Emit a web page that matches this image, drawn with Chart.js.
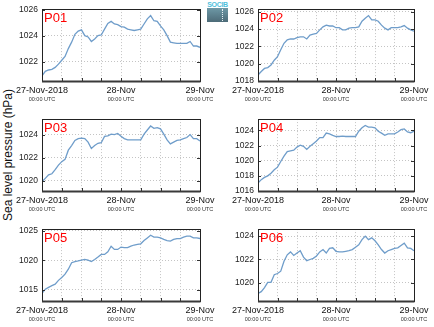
<!DOCTYPE html>
<html>
<head>
<meta charset="utf-8">
<script src="https://cdn.jsdelivr.net/npm/chart.js@4.4.0/dist/chart.umd.min.js"></script>
<style>
  body { margin: 0; width: 434px; height: 327px; overflow: hidden; background: #fff; position: relative;
         font-family: "Liberation Sans", Arial, sans-serif; }
  .panel { position: absolute; width: 224px; height: 107px; }
  #ylabel { position: absolute; left: 8px; top: 155px; transform: translate(-50%, -50%) rotate(-90deg);
            font-size: 12px; white-space: nowrap; color: #111; }
  #logo { position: absolute; left: 207px; top: 2px; width: 21px; }
  #logo .txt { font-size: 7px; line-height: 6px; height: 6px; color: #4fc0dc; font-weight: bold;
               letter-spacing: -0.3px; text-align: center; }
  #logo .box { height: 14px; background: linear-gradient(#6d98a6, #4d6b78); position: relative; }
  #logo .box::after { content: ""; position: absolute; left: 15px; top: 1px; height: 12px;
                      border-left: 1px dotted #e8f2f5; }
</style>
</head>
<body>
<div id="ylabel">Sea level pressure (hPa)</div>
<div id="logo"><div class="txt">SOCIB</div><div class="box"></div></div>

<div class="panel" style="left:0;top:0"><canvas id="c1" width="224" height="107"></canvas></div>
<div class="panel" style="left:210px;top:0"><canvas id="c2" width="224" height="107"></canvas></div>
<div class="panel" style="left:0;top:110px"><canvas id="c3" width="224" height="107"></canvas></div>
<div class="panel" style="left:210px;top:110px"><canvas id="c4" width="224" height="107"></canvas></div>
<div class="panel" style="left:0;top:220px"><canvas id="c5" width="224" height="107"></canvas></div>
<div class="panel" style="left:210px;top:220px"><canvas id="c6" width="224" height="107"></canvas></div>

<script>
// hourly sea level pressure (hPa), 27-Nov-2018 00:00 UTC to 29-Nov 00:00 UTC
const p01 = [1020.9, 1021.25, 1021.35, 1021.4, 1021.55, 1021.8, 1022.1, 1022.4, 1023.0, 1023.5,
  1024.1, 1024.35, 1024.45, 1024.0, 1023.9, 1023.55, 1023.75, 1024.0, 1024.05, 1024.5,
  1024.95, 1025.1, 1024.9, 1024.85, 1024.7, 1024.65, 1024.5, 1024.45, 1024.4, 1024.45,
  1024.5, 1024.9, 1025.3, 1025.55, 1025.15, 1025.1, 1024.75, 1024.45, 1024.0, 1023.5,
  1023.45, 1023.4, 1023.4, 1023.4, 1023.4, 1023.55, 1023.2, 1023.2, 1023.1];
const p02 = [1018.7, 1019.1, 1019.45, 1019.55, 1019.85, 1020.4, 1020.8, 1021.6, 1022.35, 1022.75,
  1022.85, 1022.85, 1023.0, 1023.1, 1023.1, 1022.85, 1023.3, 1023.4, 1023.5, 1023.9,
  1024.25, 1024.45, 1024.35, 1024.35, 1024.15, 1024.15, 1023.9, 1023.9, 1024.1, 1024.15,
  1024.15, 1024.25, 1024.9, 1025.25, 1025.55, 1025.05, 1025.05, 1024.9, 1024.45, 1024.1,
  1023.9, 1024.15, 1024.15, 1024.15, 1024.25, 1024.4, 1024.1, 1023.9, 1023.75];
const p03 = [1019.9, 1020.2, 1020.5, 1020.6, 1020.95, 1021.35, 1021.65, 1021.85, 1022.65, 1023.05,
  1023.5, 1023.65, 1023.7, 1023.65, 1023.35, 1022.8, 1023.05, 1023.25, 1023.3, 1023.85,
  1023.9, 1024.05, 1024.0, 1024.1, 1023.85, 1023.65, 1023.55, 1023.55, 1023.55, 1023.55,
  1023.55, 1024.05, 1024.4, 1024.75, 1024.55, 1024.6, 1024.5, 1024.05, 1023.55, 1023.2,
  1023.35, 1023.5, 1023.55, 1023.65, 1023.75, 1024.0, 1023.65, 1023.65, 1023.45];
const p04 = [1017.05, 1017.5, 1017.8, 1018.0, 1018.35, 1018.8, 1019.15, 1019.9, 1020.6, 1021.2,
  1021.3, 1021.4, 1021.8, 1022.05, 1021.9, 1021.5, 1021.9, 1022.25, 1022.6, 1023.05,
  1023.05, 1023.65, 1023.55, 1023.35, 1023.2, 1023.2, 1023.25, 1023.2, 1023.2, 1023.2,
  1023.2, 1023.9, 1024.35, 1024.65, 1024.45, 1024.45, 1024.35, 1023.9, 1023.65, 1023.35,
  1023.55, 1023.55, 1023.55, 1023.8, 1024.1, 1024.2, 1023.8, 1023.7, 1023.9];
const p05 = [1014.4, 1015.1, 1015.4, 1015.7, 1015.95, 1016.6, 1017.1, 1017.65, 1018.5, 1019.6,
  1019.8, 1019.9, 1020.05, 1020.15, 1020.05, 1019.8, 1020.15, 1020.55, 1021.0, 1021.0,
  1021.45, 1022.4, 1021.85, 1021.85, 1022.25, 1022.15, 1022.15, 1022.4, 1022.6, 1022.7,
  1022.8, 1023.35, 1023.8, 1024.25, 1023.95, 1023.95, 1023.8, 1023.55, 1023.35, 1023.25,
  1023.55, 1023.7, 1023.7, 1023.95, 1024.1, 1024.1, 1023.8, 1023.8, 1023.7];
const p06 = [1019.1, 1019.25, 1019.6, 1020.05, 1020.05, 1020.7, 1020.8, 1021.0, 1021.85, 1022.4,
  1022.65, 1022.35, 1022.55, 1022.75, 1022.2, 1021.9, 1022.0, 1022.1, 1022.3, 1022.65,
  1022.85, 1022.55, 1022.95, 1023.0, 1022.7, 1022.65, 1022.65, 1022.7, 1022.75, 1022.85,
  1023.05, 1023.25, 1023.7, 1024.0, 1023.7, 1023.85, 1023.6, 1023.25, 1022.85, 1022.55,
  1022.75, 1022.85, 1022.95, 1023.0, 1023.2, 1023.4, 1023.0, 1022.95, 1022.75];

const stations = ['P01', 'P02', 'P03', 'P04', 'P05', 'P06'];
const series = [p01, p02, p03, p04, p05, p06];
const yTicks = [
  [1022, 1024, 1026],
  [1018, 1020, 1022, 1024, 1026],
  [1020, 1022, 1024],
  [1016, 1018, 1020, 1022, 1024],
  [1015, 1020, 1025],
  [1020, 1022, 1024]
];
const yRanges = [[1020.5, 1026.05], [1018, 1026.3], [1019.1, 1025.35], [1016, 1025.5], [1013.1, 1025.3], [1018.45, 1024.6]];
const hourTicks = [0, 6, 12, 18, 24, 30, 36, 42, 48];
const dayLabels = ['27-Nov-2018', '28-Nov', '29-Nov'];
const dayHours = [0, 24, 48];
const timeLabel = '00:00 UTC';

const FONT = '"Liberation Sans", Arial, sans-serif';

// frame, inward ticks, station name and two-line date labels
const panelDecor = {
  id: 'panelDecor',
  afterDatasetsDraw(chart, args, opts) {
    const { ctx, chartArea: a, scales: { x, y } } = chart;
    ctx.save();
    ctx.strokeStyle = '#333';
    ctx.lineWidth = 1;
    ctx.beginPath();
    hourTicks.forEach(h => {
      const px = Math.round(x.getPixelForValue(h)) + 0.5;
      ctx.moveTo(px, a.bottom); ctx.lineTo(px, a.bottom - 3);
    });
    y.ticks.forEach(t => {
      const py = Math.round(y.getPixelForValue(t.value)) + 0.5;
      ctx.moveTo(a.left, py); ctx.lineTo(a.left + 3, py);
      ctx.moveTo(a.right, py); ctx.lineTo(a.right - 3, py);
    });
    ctx.stroke();

    ctx.strokeStyle = '#222';
    ctx.strokeRect(Math.round(a.left) + 0.5, Math.round(a.top) + 0.5,
                   Math.round(a.right - a.left), Math.round(a.bottom - a.top));
    ctx.lineWidth = 2;
    ctx.strokeStyle = '#3a3a3a';
    ctx.beginPath();
    ctx.moveTo(a.left, Math.round(a.bottom) + 0.5);
    ctx.lineTo(a.right + 0.5, Math.round(a.bottom) + 0.5);
    ctx.stroke();

    ctx.fillStyle = '#ff0000';
    ctx.font = '13px ' + FONT;
    ctx.textAlign = 'left';
    ctx.textBaseline = 'alphabetic';
    ctx.fillText(opts.name, a.left + 2, a.top + 12.5);

    ctx.textAlign = 'center';
    dayHours.forEach((h, i) => {
      const px = x.getPixelForValue(h);
      ctx.fillStyle = '#111';
      ctx.font = '9px ' + FONT;
      ctx.fillText(dayLabels[i], px, a.bottom + 11.5);
      ctx.fillStyle = '#333';
      ctx.font = '5.5px ' + FONT;
      ctx.fillText(timeLabel, px, a.bottom + 19.5);
    });
    ctx.restore();
  }
};

function makePanel(idx, yAxisWidth, rightPad) {
  const values = series[idx];
  new Chart(document.getElementById('c' + (idx + 1)), {
    type: 'line',
    data: {
      datasets: [{
        data: values.map((v, h) => ({ x: h, y: v })),
        borderColor: '#6f9dca',
        borderWidth: 1.3,
        pointRadius: 0,
        tension: 0,
        fill: false
      }]
    },
    options: {
      responsive: false,
      animation: false,
      devicePixelRatio: 1,
      layout: { padding: { top: 8, right: rightPad, left: 0, bottom: 0 } },
      plugins: {
        legend: { display: false },
        tooltip: { enabled: false },
        panelDecor: { name: stations[idx] }
      },
      scales: {
        x: {
          type: 'linear',
          min: 0,
          max: 48,
          afterBuildTicks: s => { s.ticks = hourTicks.map(v => ({ value: v })); },
          afterFit: s => { s.height = 26; },
          ticks: { display: false },
          grid: { color: '#c4c4c4', lineWidth: 1, drawTicks: false },
          border: { display: false, dash: [1, 2] }
        },
        y: {
          min: yRanges[idx][0],
          max: yRanges[idx][1],
          afterBuildTicks: s => { s.ticks = yTicks[idx].map(v => ({ value: v })); },
          afterFit: s => { s.width = yAxisWidth; },
          ticks: {
            color: '#222', padding: 4, font: { size: 8.5, family: FONT },
            callback: v => String(v)
          },
          grid: { color: '#c4c4c4', lineWidth: 1, drawTicks: false },
          border: { display: false, dash: [1, 2] }
        }
      }
    },
    plugins: [panelDecor]
  });
}

for (let i = 0; i < 6; i++) {
  if (i % 2 === 0) makePanel(i, 42, 24);
  else makePanel(i, 48, 20);
}
</script>
</body>
</html>
